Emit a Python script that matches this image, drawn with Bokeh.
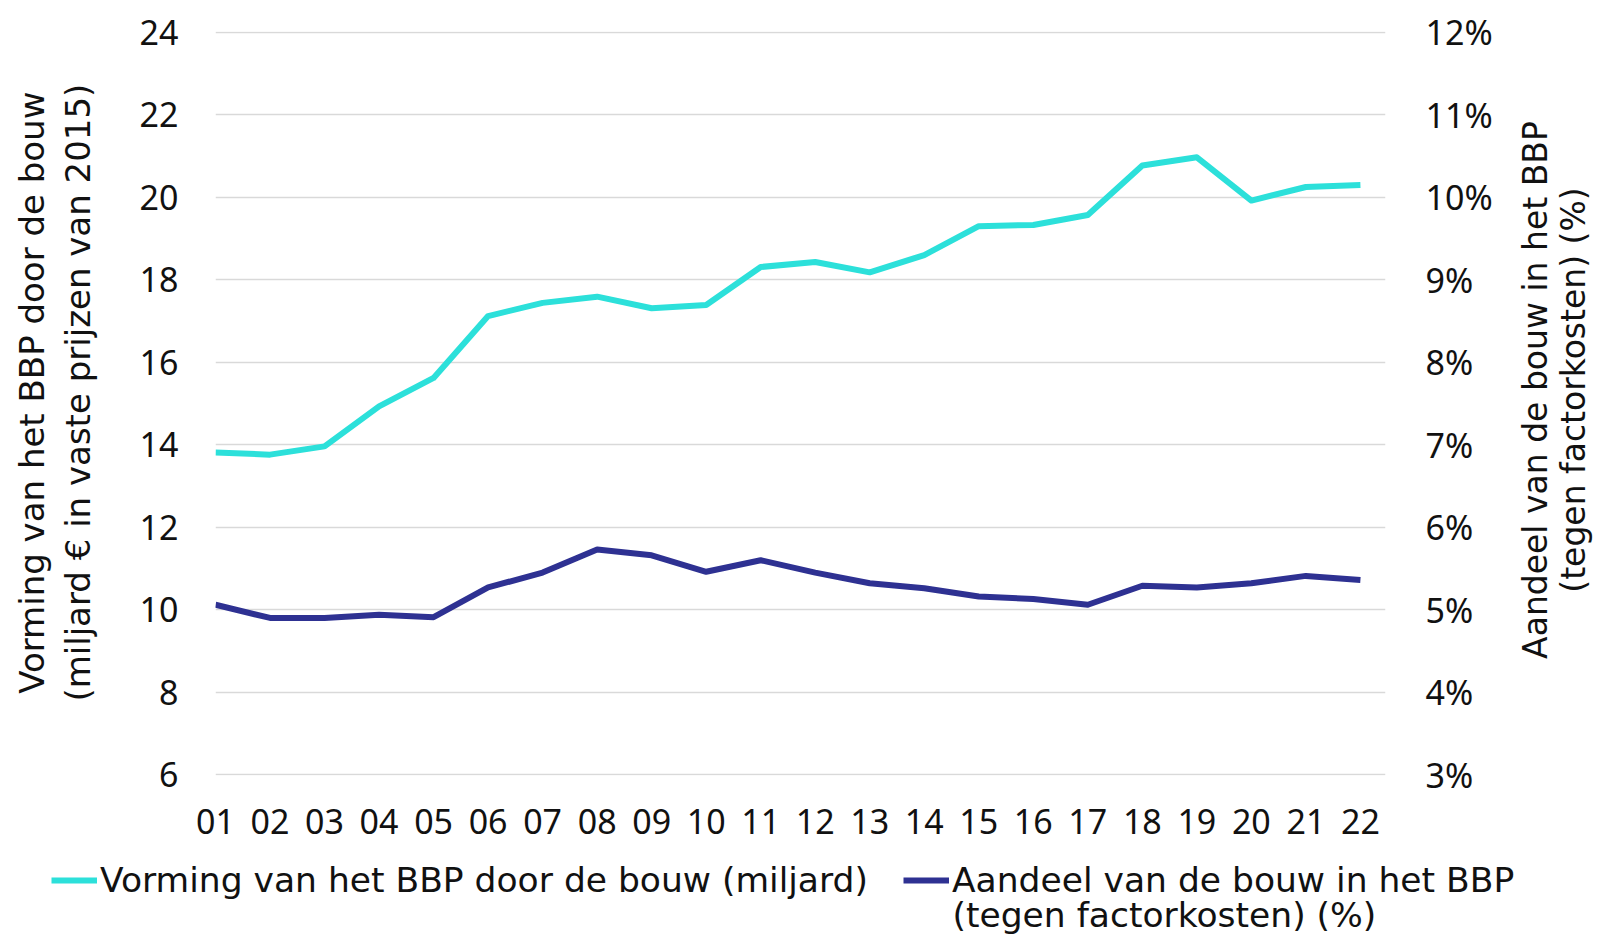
from math import pi
from bokeh.plotting import figure
from bokeh.layouts import row, column
from bokeh.models import (Range1d, LinearAxis, FixedTicker, PrintfTickFormatter,
                          Legend, LegendItem, Label, ColumnDataSource)
from bokeh.embed import file_html
from bokeh.resources import INLINE

# ---- data ----
years = ["01", "02", "03", "04", "05", "06", "07", "08", "09", "10", "11",
         "12", "13", "14", "15", "16", "17", "18", "19", "20", "21", "22"]
vorming = [13.81, 13.76, 13.96, 14.93, 15.62, 17.12, 17.44, 17.59, 17.31, 17.39, 18.31,
           18.43, 18.18, 18.60, 19.30, 19.33, 19.57, 20.77, 20.97, 19.92, 20.25, 20.30]
aandeel = [5.06, 4.90, 4.90, 4.94, 4.91, 5.27, 5.45, 5.73, 5.66, 5.46, 5.60,
           5.45, 5.32, 5.26, 5.16, 5.13, 5.06, 5.29, 5.27, 5.32, 5.41, 5.36]
left_ticks = [6, 8, 10, 12, 14, 16, 18, 20, 22, 24]
right_ticks = [3, 4, 5, 6, 7, 8, 9, 10, 11, 12]

name_vorming = "Vorming van het BBP door de bouw (miljard)"
name_aandeel_1 = "Aandeel van de bouw in het BBP"
name_aandeel_2 = "(tegen factorkosten) (%)"
left_title = ["Vorming van het BBP door de bouw", "(miljard € in vaste prijzen van 2015)"]
right_title = ["Aandeel van de bouw in het BBP", "(tegen factorkosten) (%)"]

CYAN = "#2CE0DA"
NAVY = "#2E3192"
TXT = "#111111"
TICK_FONT = "Noto Sans"
TEXT_FONT = "DejaVu Sans"

TOTAL_W, TOTAL_H = 1593, 936
MAIN_H = 856
LEG_H = TOTAL_H - MAIN_H
LEFT_W, RIGHT_W = 110, 98
MAIN_W = TOTAL_W - LEFT_W - RIGHT_W

src = ColumnDataSource(dict(x=list(range(len(years))), vorming=vorming, aandeel=aandeel))


def blank_fig(w, h):
    f = figure(width=w, height=h, output_backend="svg", toolbar_location=None,
               x_range=Range1d(0, w), y_range=Range1d(0, h),
               min_border=0, min_border_left=0, min_border_right=0,
               min_border_top=0, min_border_bottom=0)
    f.axis.visible = False
    f.grid.visible = False
    f.outline_line_color = None
    f.background_fill_color = "white"
    f.border_fill_color = "white"
    return f


# ---- main chart ----
p = figure(width=MAIN_W, height=MAIN_H, output_backend="svg", toolbar_location=None,
           x_range=Range1d(0, 21.46), y_range=Range1d(5.98, 24.02),
           min_border_left=105, min_border_right=105, min_border_top=31, min_border_bottom=81)
p.outline_line_color = None
p.background_fill_color = "white"
p.border_fill_color = "white"
p.extra_y_ranges = {"pct": Range1d(2.99, 12.01)}

p.xgrid.visible = False
p.ygrid.grid_line_color = "#d9d9d9"
p.ygrid.grid_line_width = 1.5
p.ygrid.ticker = FixedTicker(ticks=left_ticks)


def style_axis(ax, standoff):
    ax.axis_line_color = None
    ax.major_tick_line_color = None
    ax.minor_tick_line_color = None
    ax.major_tick_out = 0
    ax.major_tick_in = 0
    ax.major_label_text_font = TICK_FONT
    ax.major_label_text_font_size = "34px"
    ax.major_label_text_color = TXT
    ax.major_label_standoff = standoff


p.yaxis.ticker = FixedTicker(ticks=left_ticks)
style_axis(p.yaxis[0], 37)

p.xaxis.ticker = FixedTicker(ticks=list(range(len(years))))
p.xaxis.major_label_overrides = {i: y for i, y in enumerate(years)}
style_axis(p.xaxis[0], 33)

ax_r = LinearAxis(y_range_name="pct", ticker=FixedTicker(ticks=right_ticks),
                  formatter=PrintfTickFormatter(format="%d%%"))
style_axis(ax_r, 40)
p.add_layout(ax_r, "right")

p.line("x", "vorming", source=src, line_color=CYAN, line_width=6, line_join="round")
p.line("x", "aandeel", source=src, y_range_name="pct", line_color=NAVY,
       line_width=6, line_join="round")

# ---- side titles ----
lf = blank_fig(LEFT_W, MAIN_H)
for xs, t in zip([31, 77], left_title):
    lf.add_layout(Label(x=xs, y=440.5, text=t, angle=pi / 2,
                        text_font=TEXT_FONT, text_font_size="34px", text_color=TXT,
                        text_align="center", text_baseline="middle"))

rf = blank_fig(RIGHT_W, MAIN_H)
for xs, t in zip([40, 78], right_title):
    rf.add_layout(Label(x=xs, y=443.5, text=t, angle=pi / 2,
                        text_font=TEXT_FONT, text_font_size="33px", text_color=TXT,
                        text_align="center", text_baseline="middle"))

# ---- legend strip ----
bf = blank_fig(TOTAL_W, LEG_H)
bf.extra_y_ranges = {"off": Range1d(1000, 2000)}  # keeps the legend proxies out of view
d1 = bf.line("x", "vorming", source=src, y_range_name="off", line_color=CYAN, line_width=6)
d2 = bf.line("x", "aandeel", source=src, y_range_name="off", line_color=NAVY, line_width=6)
common = dict(orientation="horizontal", padding=0, margin=0, glyph_width=46, glyph_height=20,
              label_standoff=3, label_text_font=TEXT_FONT, label_text_font_size="34.5px",
              label_text_color=TXT, border_line_color=None, background_fill_alpha=0)
bf.add_layout(Legend(items=[LegendItem(label=name_vorming, renderers=[d1])],
                     location=(51, 36), **common))
bf.add_layout(Legend(items=[LegendItem(label=name_aandeel_1, renderers=[d2])],
                     location=(903, 36), **common))
bf.add_layout(Label(x=952, y=22, text=name_aandeel_2, text_font=TEXT_FONT,
                    text_font_size="34.5px", text_color=TXT,
                    text_align="left", text_baseline="middle"))

layout = column(row(lf, p, rf, spacing=0), bf, spacing=0)
open("out.html", "w").write(file_html(layout, INLINE))
